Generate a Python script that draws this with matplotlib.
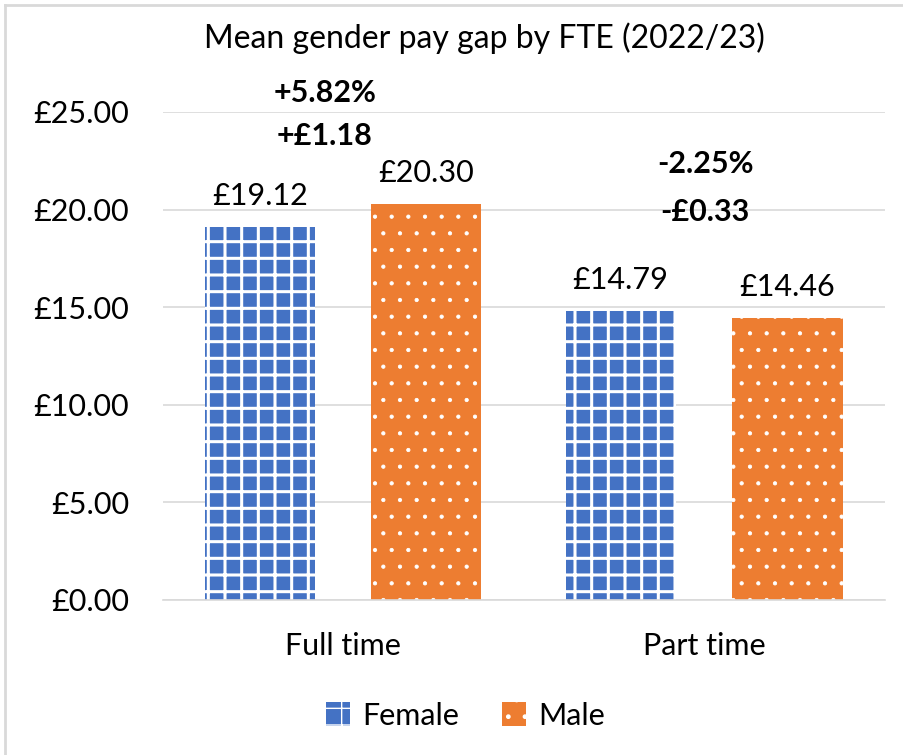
import matplotlib.pyplot as plt
import matplotlib.lines as mlines
import numpy as np

plt.rcParams['font.family'] = ['Lato', 'DejaVu Sans']

# data
categories = ['Full time', 'Part time']
female = [19.12, 14.79]
male = [20.30, 14.46]
gap_pct = ['+5.82%', '-2.25%']
gap_abs = ['+£1.18', '-£0.33']

blue = '#4472C4'
orange = '#ED7D31'
fs = 22

fig = plt.figure(figsize=(9.04, 7.55), dpi=100)
ax = fig.add_axes([0.1798, 0.2053, 0.7987, 0.6464])

x = np.arange(len(categories))
w = 0.305
off = 0.231
with plt.rc_context({'hatch.linewidth': 2.2}):
    b1 = ax.bar(x - off, female, w, color=blue, edgecolor='white', linewidth=0,
                hatch='+', label='Female')
with plt.rc_context({'hatch.linewidth': 0.6}):
    b2 = ax.bar(x + off, male, w, color=orange, edgecolor='white', linewidth=0,
                hatch='.', label='Male')

for bars in (b1, b2):
    for bar in bars:
        h = bar.get_height()
        ax.text(bar.get_x() + bar.get_width()/2, h + 1.13, f'£{h:.2f}',
                ha='center', va='baseline', fontsize=fs)

# gap annotations
ax.text(-0.05, 25.51, gap_pct[0], ha='center', va='baseline', fontsize=fs,
        fontweight='bold', clip_on=False)
ax.text(-0.05, 23.31, gap_abs[0], ha='center', va='baseline', fontsize=fs,
        fontweight='bold', clip_on=False)
ax.text(1.003, 21.87, gap_pct[1], ha='center', va='baseline', fontsize=fs,
        fontweight='bold')
ax.text(1.003, 19.42, gap_abs[1], ha='center', va='baseline', fontsize=fs,
        fontweight='bold')

ax.set_xlim(-0.5, 1.5)
ax.set_ylim(0, 25)
ax.set_yticks(np.arange(0, 26, 5))
ax.set_yticklabels([f'£{v:.2f}' for v in np.arange(0, 26, 5)])
ax.set_xticks(x)
ax.set_xticklabels(categories)
ax.tick_params(axis='both', length=0, labelsize=fs, colors='black')
ax.tick_params(axis='y', pad=24)
ax.tick_params(axis='x', pad=23)
ax.yaxis.grid(True, color='#D9D9D9', linewidth=1.2)
ax.set_axisbelow(True)
for s in ['top', 'right', 'left']:
    ax.spines[s].set_visible(False)
ax.spines['bottom'].set_color('#D9D9D9')
ax.spines['bottom'].set_linewidth(1.2)

fig.text(0.536, 0.95, 'Mean gender pay gap by FTE (2022/23)', ha='center',
         va='center', fontsize=23)

fig.legend(handles=[b1, b2], loc='center', bbox_to_anchor=(0.515, 0.052),
           ncol=2, frameon=False, fontsize=fs, handlelength=0.8,
           handleheight=0.8, handletextpad=0.4, columnspacing=1.4)

# chart border (top and left edges visible)
fig.lines.append(mlines.Line2D([0.006, 1.0], [0.9934, 0.9934],
                               transform=fig.transFigure, color='#D9D9D9', linewidth=2))
fig.lines.append(mlines.Line2D([0.006, 0.006], [0.0, 0.9934],
                               transform=fig.transFigure, color='#D9D9D9', linewidth=2))

plt.savefig('out.png', dpi=100)
